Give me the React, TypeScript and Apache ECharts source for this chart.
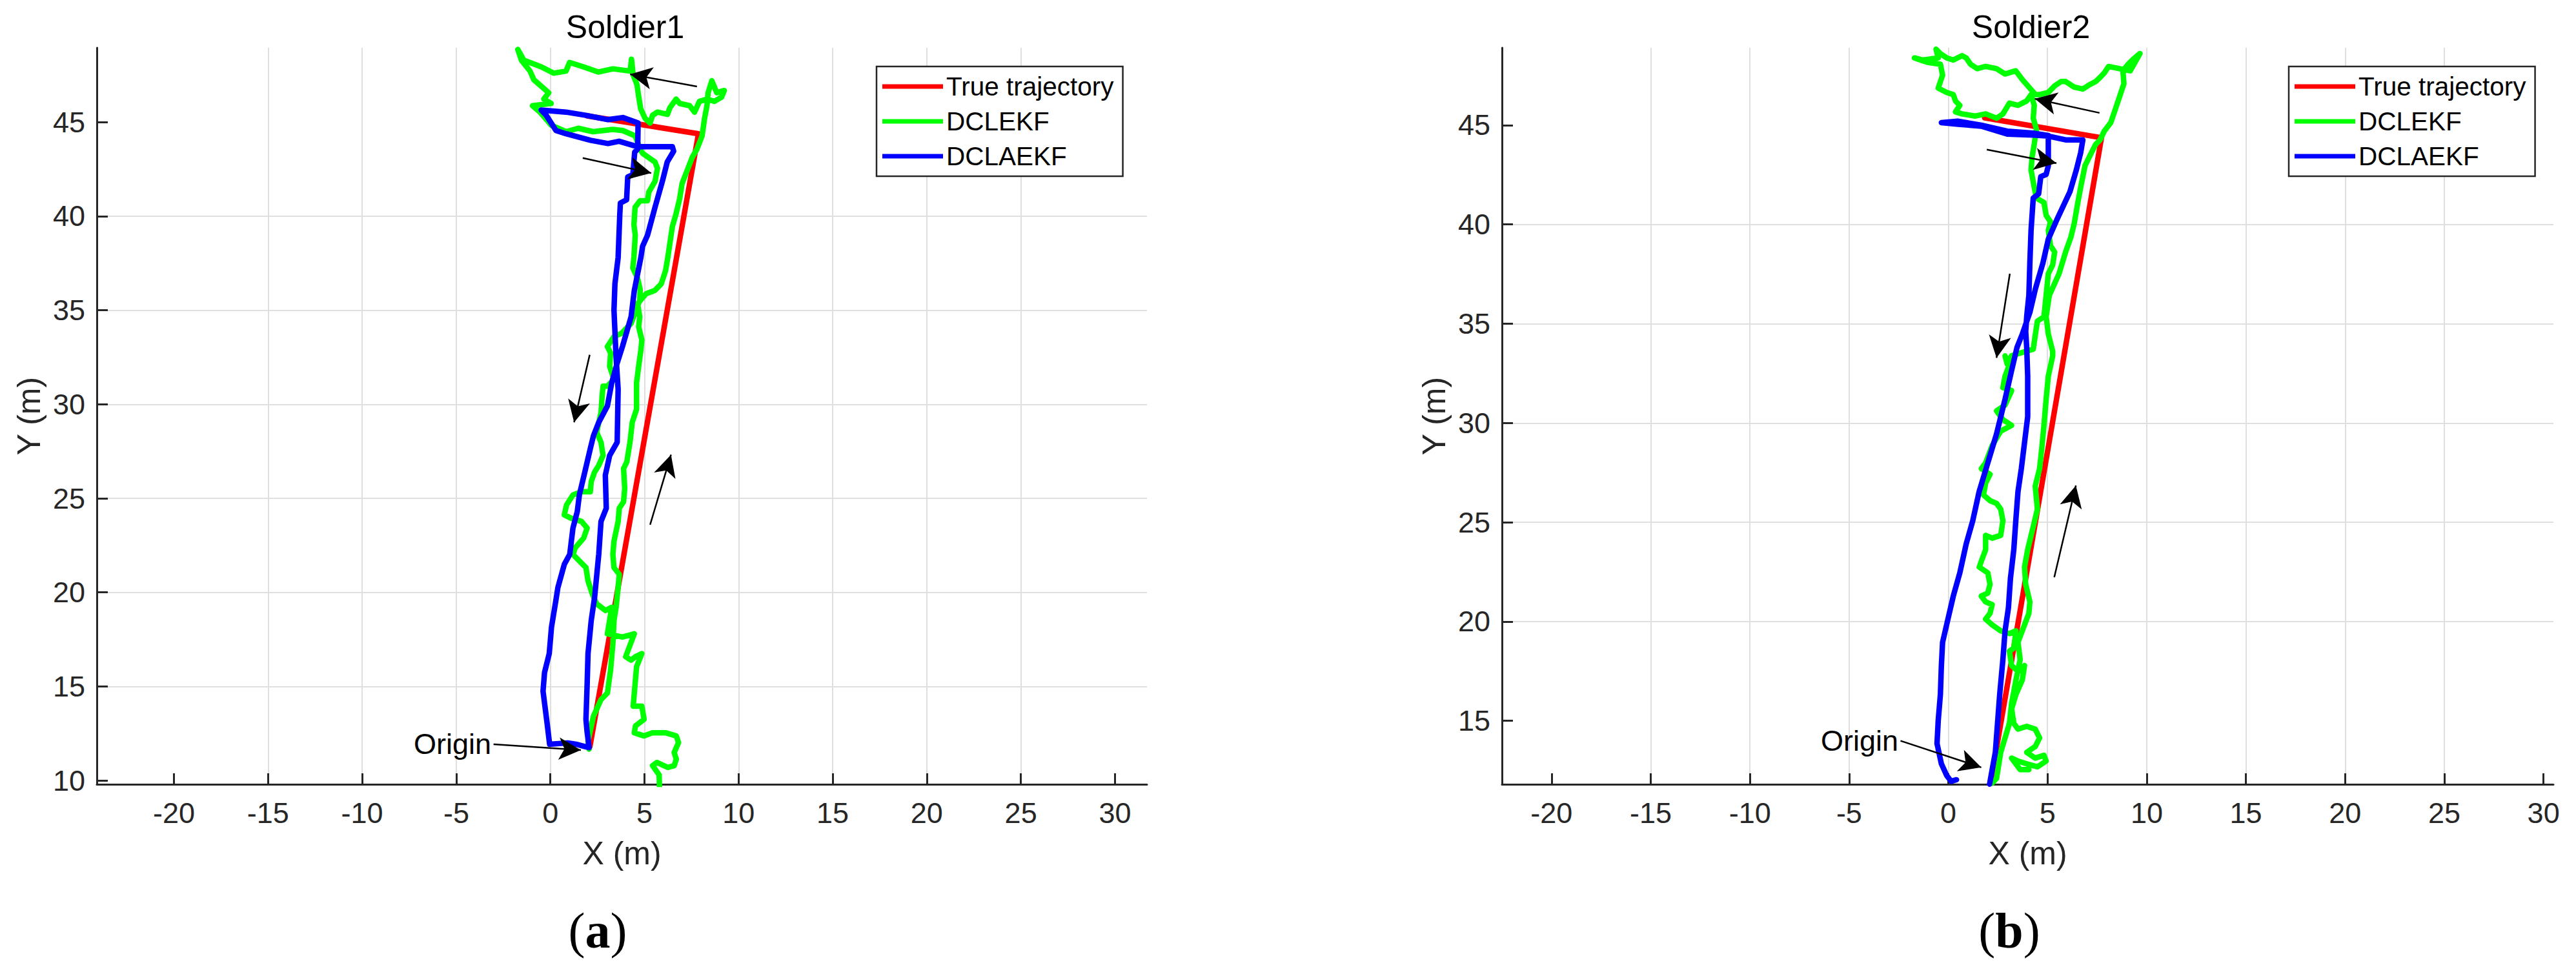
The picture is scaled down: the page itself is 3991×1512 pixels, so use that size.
import React, { useEffect, useRef } from 'react';
import * as echarts from 'echarts';

// ---------------- data ----------------
const SERIES_NAMES = ['True trajectory', 'DCLEKF', 'DCLAEKF'];
const SERIES_COLORS = ['#ff0000', '#00ff00', '#0000ff'];
const PANEL_TITLES = ['Soldier1', 'Soldier2'];
const PANEL_LETTERS = ['a', 'b'];

const X_TICKS = [-20, -15, -10, -5, 0, 5, 10, 15, 20, 25, 30];
const Y_TICKS_A = [10, 15, 20, 25, 30, 35, 40, 45];
const Y_TICKS_B = [15, 20, 25, 30, 35, 40, 45];
const X_RANGE_A = [-24.1, 31.7];
const Y_RANGE_A = [9.8, 48.95];
const X_RANGE_B = [-22.5, 30.5];
const Y_RANGE_B = [11.8, 48.9];

const TRUE_A = [[2.1, 11.8], [7.87, 44.38], [1.95, 45.33]];
const DCLAEKF_A = [
  [2.06, 11.75], [1.95, 12.6], [1.89, 13.25], [1.95, 15.0], [2.0, 16.75], [2.17, 18.5], [2.35, 19.74],
  [2.57, 22.02], [2.69, 23.77], [2.97, 24.47], [2.92, 26.23], [3.15, 27.28], [3.55, 27.98], [3.6, 30.79],
  [3.49, 32.54], [3.38, 35.0], [3.43, 36.4], [3.6, 37.8], [3.69, 40.13], [3.72, 40.7], [4.05, 40.87],
  [4.11, 42.08], [4.38, 42.2], [4.48, 43.4], [4.64, 43.57], [4.66, 44.95], [3.85, 45.24], [3.06, 45.13],
  [1.88, 45.36], [0.83, 45.53], [-0.49, 45.64], [-0.22, 45.36], [0.3, 44.55], [0.83, 44.38], [2.14, 44.03],
  [3.06, 43.86], [3.65, 43.98], [4.64, 43.69], [5.69, 43.69], [6.48, 43.69], [6.55, 43.45], [6.21, 42.88],
  [5.95, 41.85], [5.56, 40.47], [5.16, 38.98], [4.9, 38.4], [4.81, 37.81], [4.46, 36.05], [4.29, 34.65],
  [3.83, 33.07], [3.55, 32.19], [3.26, 31.14], [3.03, 29.91], [2.57, 29.04], [2.29, 28.33], [2.12, 27.63],
  [1.83, 26.4], [1.54, 25.18], [1.43, 24.3], [1.2, 23.42], [1.03, 22.02], [0.74, 21.49], [0.4, 20.26],
  [0.29, 19.56], [0.06, 18.16], [-0.06, 16.75], [-0.31, 15.74], [-0.39, 14.75], [-0.18, 13.09],
  [-0.04, 11.93], [0.92, 12.0], [1.36, 11.93], [2.01, 11.76],
];
const DCLEKF_A = [
  [2.06, 11.67], [2.0, 12.1], [2.29, 13.42], [2.69, 14.3], [3.03, 14.65], [3.2, 15.88], [3.32, 17.28],
  [3.38, 18.5], [3.49, 19.2], [3.6, 20.26], [3.66, 20.96], [3.38, 21.32], [3.32, 22.02], [3.38, 22.72],
  [3.6, 23.77], [3.66, 24.47], [3.89, 24.82], [3.95, 25.53], [3.89, 26.58], [4.06, 26.93], [4.23, 27.98],
  [4.35, 29.04], [4.58, 29.74], [4.58, 31.14], [4.69, 32.02], [4.81, 32.89], [4.86, 33.42], [4.69, 34.12],
  [4.75, 34.65], [4.63, 35.35], [5.09, 35.88], [5.55, 36.05], [5.89, 36.4], [6.12, 37.1], [6.24, 37.81],
  [6.48, 39.44], [6.68, 40.13], [6.87, 40.93], [7.0, 41.74], [7.27, 42.43], [7.53, 43.11], [7.79, 43.57],
  [8.06, 44.26], [8.19, 45.18], [8.32, 45.87], [8.38, 46.56], [8.58, 47.2], [8.84, 46.56], [9.24, 46.68],
  [9.1, 46.33], [8.71, 46.1], [8.32, 46.22], [7.92, 46.1], [7.66, 45.53], [7.4, 45.87], [6.87, 45.99],
  [6.68, 46.22], [6.35, 45.76], [6.22, 45.41], [5.69, 45.53], [5.43, 45.36], [5.3, 44.95], [5.03, 45.2],
  [4.8, 45.7], [4.7, 46.3], [4.6, 47.0], [4.4, 47.5], [4.31, 48.34], [4.24, 47.71], [3.32, 47.83],
  [2.54, 47.66], [1.75, 47.94], [1.02, 48.17], [0.83, 47.71], [0.17, 47.6], [-0.49, 47.94], [-1.41, 48.29],
  [-1.73, 48.86], [-1.54, 48.29], [-1.08, 47.71], [-0.88, 47.25], [-0.35, 46.79], [-0.09, 46.56],
  [-0.35, 46.22], [0.04, 45.99], [-0.95, 45.87], [-0.55, 45.53], [0.04, 44.84], [0.83, 44.49], [1.48, 44.67],
  [2.27, 44.49], [3.32, 44.61], [3.85, 44.55], [4.51, 44.26], [4.77, 43.57], [4.9, 43.34], [5.56, 42.88],
  [5.69, 42.54], [5.56, 41.85], [5.23, 41.28], [5.16, 40.82], [4.77, 40.82], [4.5, 40.47], [4.44, 39.55],
  [4.51, 38.98], [4.44, 37.83], [4.38, 37.25], [4.64, 36.68], [4.77, 36.1], [4.75, 35.53], [4.29, 34.3],
  [3.78, 33.77], [3.38, 33.6], [3.03, 33.07], [3.2, 32.72], [3.15, 32.02], [3.38, 31.32], [3.03, 30.96],
  [2.8, 30.96], [2.75, 30.44], [2.69, 29.56], [2.46, 28.51], [2.69, 27.98], [2.8, 27.28], [2.57, 26.75],
  [2.35, 26.4], [2.17, 25.88], [2.12, 25.35], [1.66, 25.35], [1.2, 25.18], [0.86, 24.65], [0.74, 24.12],
  [1.09, 23.95], [1.66, 23.77], [1.95, 23.42], [1.77, 22.89], [1.32, 22.37], [1.2, 22.02], [1.54, 21.67],
  [1.89, 21.32], [2.0, 20.61], [2.23, 19.91], [2.46, 19.39], [2.92, 19.04], [3.26, 19.21], [3.03, 17.8],
  [3.83, 17.63], [4.46, 17.8], [4.0, 16.58], [4.29, 16.4], [4.52, 16.58], [4.86, 16.75], [4.58, 16.05],
  [4.46, 14.65], [4.4, 13.95], [4.86, 13.95], [4.98, 13.25], [4.52, 12.9], [4.46, 12.54], [4.98, 12.37],
  [5.43, 12.54], [6.12, 12.54], [6.69, 12.37], [6.81, 12.02], [6.58, 11.49], [6.69, 11.14], [6.58, 10.79],
  [6.24, 10.7], [5.66, 10.96], [5.43, 10.79], [5.78, 10.3], [5.8, 9.5],
];

const TRUE_B = [[2.15, 12.0], [7.72, 44.37], [1.83, 45.37]];
const DCLAEKF_B = [
  [2.08, 11.81], [2.21, 12.54], [2.37, 13.41], [2.48, 14.87], [2.59, 16.33], [2.75, 18.08], [2.86, 19.53],
  [3.03, 20.7], [3.13, 22.16], [3.3, 23.62], [3.4, 25.07], [3.51, 26.53], [3.68, 27.7], [3.84, 29.01],
  [4.0, 30.32], [4.0, 32.36], [3.95, 33.82], [3.9, 34.6], [3.95, 35.35], [4.06, 36.43], [4.11, 38.07],
  [4.17, 39.7], [4.28, 41.33], [4.55, 41.54], [4.66, 42.41], [4.93, 42.52], [5.04, 42.96], [5.04, 44.48],
  [4.28, 44.6], [2.97, 44.7], [1.66, 45.0], [0.47, 45.2], [-0.35, 45.13], [0.5, 45.05], [1.66, 44.95],
  [2.97, 44.55], [4.28, 44.5], [5.04, 44.45], [5.91, 44.26], [6.78, 44.26], [6.67, 43.61], [6.45, 42.74],
  [6.13, 41.65], [5.47, 40.24], [5.04, 39.26], [4.77, 38.07], [4.39, 36.76], [4.11, 35.57], [3.73, 34.48],
  [3.46, 33.8], [3.19, 32.65], [2.86, 31.2], [2.43, 29.45], [1.99, 27.99], [1.55, 26.53], [1.23, 25.07],
  [0.9, 23.91], [0.58, 22.45], [0.25, 21.28], [-0.02, 20.12], [-0.29, 18.95], [-0.35, 17.78], [-0.4, 16.33],
  [-0.51, 15.01], [-0.57, 13.85], [-0.35, 12.83], [-0.08, 12.24], [0.14, 11.95], [0.41, 12.03],
];
const DCLEKF_B = [
  [2.2, 11.85], [2.43, 12.1], [2.64, 13.41], [2.86, 14.14], [3.08, 14.87], [3.19, 15.89], [3.41, 17.06],
  [3.62, 18.08], [3.51, 18.95], [3.84, 19.83], [4.06, 20.41], [4.11, 20.99], [3.9, 21.87], [3.84, 22.74],
  [4.0, 23.62], [4.28, 24.78], [4.49, 25.66], [4.38, 26.82], [4.6, 27.7], [4.71, 28.72], [4.82, 29.88],
  [4.93, 31.2], [5.04, 32.36], [5.26, 33.38], [5.26, 33.61], [5.04, 34.48], [4.93, 35.35], [5.09, 36.43],
  [5.58, 37.52], [5.91, 38.61], [6.18, 39.37], [6.34, 40.02], [6.51, 41.0], [6.67, 41.87], [6.89, 42.96],
  [7.21, 43.61], [7.43, 44.04], [7.65, 44.26], [7.86, 44.7], [8.19, 45.13], [8.41, 45.78], [8.63, 46.43],
  [8.85, 47.09], [8.8, 47.74], [9.06, 48.07], [9.39, 48.39], [9.66, 48.61], [9.17, 47.74], [8.63, 47.85],
  [8.08, 47.96], [7.86, 47.63], [7.65, 47.41], [7.43, 47.2], [7.1, 47.03], [6.78, 46.82], [6.34, 46.92],
  [5.91, 47.2], [5.69, 47.2], [5.36, 46.98], [5.04, 46.65], [4.6, 46.54], [4.39, 46.54], [3.73, 47.3],
  [3.4, 47.74], [2.86, 47.58], [2.43, 47.85], [1.88, 47.96], [1.45, 47.85], [1.12, 48.07], [0.9, 48.39],
  [0.69, 48.5], [0.25, 48.28], [-0.08, 48.39], [-0.4, 48.61], [-0.62, 48.83], [-0.51, 48.39], [-1.27, 48.28],
  [-1.71, 48.39], [-1.06, 48.17], [-0.4, 48.07], [-0.29, 47.52], [-0.51, 46.87], [-0.08, 46.65], [0.25, 46.54],
  [0.36, 46.22], [0.58, 46.0], [0.36, 45.67], [0.69, 45.57], [1.34, 45.46], [1.88, 45.57], [2.43, 45.35],
  [2.75, 45.57], [3.08, 46.11], [3.51, 46.0], [3.95, 46.22], [4.17, 46.54], [4.33, 46.0], [4.28, 45.35],
  [4.44, 44.8], [4.33, 44.04], [4.22, 43.39], [4.17, 42.74], [4.33, 41.87], [4.44, 41.33], [4.82, 41.11],
  [4.93, 40.46], [5.15, 40.13], [5.04, 39.7], [5.15, 38.93], [5.36, 38.61], [5.26, 37.96], [5.04, 37.52],
  [4.93, 36.43], [4.82, 35.35], [4.49, 35.13], [4.39, 34.48], [4.28, 33.72], [3.19, 33.39], [2.97, 32.96],
  [2.86, 33.38], [3.08, 32.94], [2.86, 32.36], [2.75, 31.78], [3.19, 31.63], [2.86, 30.9], [2.43, 30.61],
  [2.75, 30.17], [3.19, 29.88], [2.64, 29.59], [2.21, 28.86], [1.88, 27.99], [1.66, 27.7], [2.1, 27.41],
  [1.88, 26.97], [1.77, 26.38], [2.1, 26.09], [2.43, 25.95], [2.64, 25.66], [2.75, 25.07], [2.64, 24.34],
  [2.21, 24.2], [1.88, 24.34], [1.88, 23.62], [1.66, 23.03], [1.56, 22.74], [1.99, 22.45], [2.1, 21.87],
  [1.99, 21.43], [1.66, 21.28], [1.88, 20.99], [2.21, 20.85], [2.1, 20.41], [1.88, 20.12], [2.21, 19.83],
  [2.64, 19.53], [3.08, 19.39], [3.41, 19.53], [3.3, 18.66], [3.08, 18.51], [3.19, 17.78], [3.51, 17.49],
  [3.84, 17.78], [3.73, 17.06], [3.41, 16.33], [3.19, 15.6], [3.3, 14.87], [3.51, 14.58], [3.95, 14.72],
  [4.38, 14.58], [4.6, 14.14], [4.38, 13.7], [3.95, 13.41], [4.38, 13.12], [4.82, 13.26], [4.93, 12.97],
  [4.49, 12.68], [3.95, 12.83], [3.51, 12.97], [3.19, 13.12], [3.62, 12.54], [4.06, 12.54],
];

// annotation arrows: [tail, head] in data units
const ARROWS_A = [
  [[7.79, 46.89], [4.24, 47.54]],
  [[1.72, 43.09], [5.36, 42.29]],
  [[2.09, 32.63], [1.26, 29.04]],
  [[5.3, 23.6], [6.41, 27.32]],
  [[-3.02, 11.93], [1.62, 11.62]],
];
const ARROWS_B = [
  [[7.62, 45.62], [4.36, 46.33]],
  [[1.94, 43.77], [5.45, 43.09]],
  [[3.1, 37.52], [2.43, 33.28]],
  [[5.34, 22.23], [6.43, 26.85]],
  [[-2.41, 13.99], [1.66, 12.65]],
];
const ORIGIN_LABEL = 'Origin';
const ORIGIN_A = [-3.02, 11.93];
const ORIGIN_B = [-2.41, 13.99];

// ---------------- layout / style ----------------
const FONT = '"Liberation Sans", Arial, Helvetica, sans-serif';
const AX = '#262626';
const GRIDS = [
  { left: 150, top: 74, width: 1627, height: 1141 },
  { left: 2327, top: 74, width: 1629, height: 1141 },
];
const LEGEND_POS = [
  { left: 1358, top: 103 },
  { left: 3546, top: 103 },
];
const LETTER_POS = [
  { x: 926, y: 1441 },
  { x: 3113, y: 1441 },
];

const fmtTick = (v: number) => (Math.abs(v / 5 - Math.round(v / 5)) < 1e-6 ? String(Math.round(v)) : '');

function xAxisCfg(i: number, range: number[]) {
  return {
    type: 'value',
    gridIndex: i,
    min: range[0],
    max: range[1],
    splitNumber: 8,
    axisLine: { show: true, onZero: false, lineStyle: { color: AX, width: 3 } },
    axisTick: { show: true, inside: true, length: 17, customValues: X_TICKS, lineStyle: { color: AX, width: 3 } },
    axisLabel: { show: true, customValues: X_TICKS, formatter: fmtTick, color: AX, fontSize: 45, fontFamily: FONT, margin: 22 },
    splitLine: { show: true, showMinLine: false, showMaxLine: false, lineStyle: { color: '#dfdfdf', width: 2 } },
    name: 'X (m)',
    nameLocation: 'middle',
    nameGap: 82,
    nameTextStyle: { color: AX, fontSize: 50, fontFamily: FONT },
  };
}
function yAxisCfg(i: number, range: number[], ticks: number[]) {
  return {
    type: 'value',
    gridIndex: i,
    min: range[0],
    max: range[1],
    splitNumber: 8,
    axisLine: { show: true, onZero: false, lineStyle: { color: AX, width: 3 } },
    axisTick: { show: true, inside: true, length: 17, customValues: ticks, lineStyle: { color: AX, width: 3 } },
    axisLabel: { show: true, customValues: ticks, formatter: fmtTick, color: AX, fontSize: 45, fontFamily: FONT, margin: 18 },
    splitLine: { show: true, showMinLine: false, showMaxLine: false, lineStyle: { color: '#dfdfdf', width: 2 } },
    name: 'Y (m)',
    nameLocation: 'middle',
    nameGap: 80,
    nameTextStyle: { color: AX, fontSize: 50, fontFamily: FONT },
  };
}

function trajSeries(i: number, sets: number[][][]) {
  return sets.map((data, k) => ({
    type: 'line',
    name: SERIES_NAMES[k],
    xAxisIndex: i,
    yAxisIndex: i,
    data,
    symbol: 'none',
    showSymbol: false,
    clip: true,
    z: 2 + k,
    itemStyle: { color: SERIES_COLORS[k] },
    lineStyle: { color: SERIES_COLORS[k], width: 8.5, join: 'round', cap: 'round' },
    emphasis: { disabled: true },
  }));
}

function annotationSeries(i: number, arrows: number[][][], origin: number[]) {
  return {
    type: 'line',
    name: 'annotations' + i,
    xAxisIndex: i,
    yAxisIndex: i,
    data: [origin],
    symbol: 'none',
    showSymbol: false,
    silent: true,
    z: 10,
    lineStyle: { width: 0, opacity: 0 },
    markLine: {
      silent: true,
      symbol: ['none', 'arrow'],
      symbolSize: [26, 34],
      lineStyle: { color: '#000', width: 2.5, type: 'solid' },
      itemStyle: { color: '#000' },
      label: { show: false },
      emphasis: { disabled: true },
      data: arrows.map(([a, b]) => [{ coord: a }, { coord: b }]),
    },
    markPoint: {
      silent: true,
      symbol: 'circle',
      symbolSize: 1,
      itemStyle: { color: 'rgba(0,0,0,0)' },
      label: { show: true, position: 'left', distance: 3, formatter: ORIGIN_LABEL, color: '#000', fontSize: 45, fontFamily: FONT },
      data: [{ coord: origin }],
    },
  };
}

function legendCfg(i: number) {
  return {
    data: SERIES_NAMES,
    orient: 'vertical',
    left: LEGEND_POS[i].left,
    top: LEGEND_POS[i].top,
    icon: 'rect',
    itemWidth: 94,
    itemHeight: 7,
    itemGap: 10,
    padding: [9, 14, 9, 9],
    borderColor: AX,
    borderWidth: 2.5,
    borderRadius: 0,
    backgroundColor: '#ffffff',
    selectedMode: false,
    itemStyle: { borderWidth: 0 },
    textStyle: { color: '#000', fontSize: 40.5, fontFamily: FONT, lineHeight: 44 },
  };
}

export default function App() {
  const ref = useRef<HTMLDivElement>(null);
  useEffect(() => {
    if (!ref.current) return;
    const chart = echarts.init(ref.current, undefined, { renderer: 'svg' });
    const option = {
      animation: false,
      backgroundColor: '#ffffff',
      title: PANEL_TITLES.map((t, i) => ({
        text: t,
        left: GRIDS[i].left + GRIDS[i].width / 2,
        top: 12,
        textAlign: 'center',
        textStyle: { fontSize: 50, fontWeight: 'normal', color: '#000', fontFamily: FONT },
      })),
      legend: [legendCfg(0), legendCfg(1)],
      grid: GRIDS.map((g) => ({ ...g, containLabel: false, show: false })),
      xAxis: [xAxisCfg(0, X_RANGE_A), xAxisCfg(1, X_RANGE_B)],
      yAxis: [yAxisCfg(0, Y_RANGE_A, Y_TICKS_A), yAxisCfg(1, Y_RANGE_B, Y_TICKS_B)],
      series: [
        ...trajSeries(0, [TRUE_A, DCLEKF_A, DCLAEKF_A]),
        annotationSeries(0, ARROWS_A, ORIGIN_A),
        ...trajSeries(1, [TRUE_B, DCLEKF_B, DCLAEKF_B]),
        annotationSeries(1, ARROWS_B, ORIGIN_B),
      ],
      graphic: PANEL_LETTERS.map((l, i) => ({
        type: 'text',
        x: LETTER_POS[i].x,
        y: LETTER_POS[i].y,
        silent: true,
        style: {
          text: '{p|(}{b|' + l + '}{p|)}',
          align: 'center',
          verticalAlign: 'middle',
          rich: {
            p: { fontFamily: '"Liberation Serif", "Times New Roman", serif', fontSize: 78, fontWeight: 'normal', fill: '#000', color: '#000' },
            b: { fontFamily: '"Liberation Serif", "Times New Roman", serif', fontSize: 78, fontWeight: 'bold', fill: '#000', color: '#000' },
          },
        },
      })),
    };
    chart.setOption(option as any);
    return () => chart.dispose();
  }, []);
  return (
    <div
      ref={ref}
      style={{ position: 'absolute', left: 0, top: 0, width: 3991, height: 1512, background: '#fff' }}
    />
  );
}
